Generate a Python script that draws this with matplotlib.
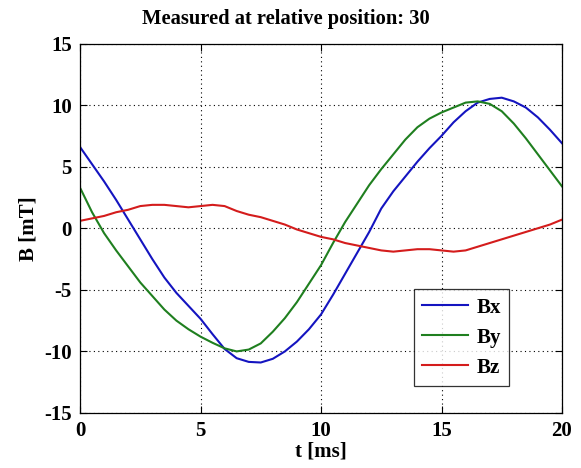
import matplotlib
matplotlib.use("Agg")
import matplotlib.pyplot as plt

t = [i * 0.5 for i in range(41)]
bx = [6.6, 5.2, 3.8, 2.3, 0.7, -0.9, -2.5, -4.0, -5.25, -6.3,
      -7.35, -8.6, -9.8, -10.55, -10.85, -10.9, -10.6, -10.0, -9.2, -8.2,
      -7.0, -5.4, -3.7, -2.0, -0.3, 1.6, 3.0, 4.2, 5.4, 6.5,
      7.5, 8.6, 9.5, 10.2, 10.5, 10.6, 10.3, 9.8, 9.0, 8.0, 6.9]
by = [3.3, 1.3, -0.4, -1.8, -3.1, -4.4, -5.5, -6.6, -7.5, -8.2,
      -8.8, -9.3, -9.75, -10.0, -9.85, -9.35, -8.4, -7.3, -6.0, -4.5,
      -3.0, -1.2, 0.5, 2.0, 3.5, 4.8, 6.0, 7.2, 8.2, 8.9,
      9.4, 9.8, 10.2, 10.3, 10.1, 9.5, 8.5, 7.3, 6.0, 4.7, 3.4]
bz = [0.6, 0.8, 1.0, 1.3, 1.5, 1.8, 1.9, 1.9, 1.8, 1.7,
      1.8, 1.9, 1.8, 1.4, 1.1, 0.9, 0.6, 0.3, -0.1, -0.4,
      -0.7, -0.9, -1.2, -1.4, -1.6, -1.8, -1.9, -1.8, -1.7, -1.7,
      -1.8, -1.9, -1.8, -1.5, -1.2, -0.9, -0.6, -0.3, 0.0, 0.3, 0.7]
xticks = [0, 5, 10, 15, 20]
yticks = [-15, -10, -5, 0, 5, 10, 15]
title = "Measured at relative position: 30"

plt.rcParams['font.family'] = ['Liberation Serif', 'DejaVu Serif']
plt.rcParams['font.weight'] = 'bold'

fig = plt.figure(figsize=(5.81, 4.68), dpi=100)
ax = fig.add_axes([80/581, 1-413/468, 482/581, 369.5/468])

ax.plot(t, bx, color='#1414c0', lw=1.5, label='Bx')
ax.plot(t, by, color='#1f7f1f', lw=1.5, label='By')
ax.plot(t, bz, color='#d41c1c', lw=1.5, label='Bz')

ax.set_xlim(0, 20)
ax.set_ylim(-15, 15)
ax.set_xticks(xticks)
ax.set_yticks(yticks)
ax.set_xticklabels([str(v) for v in xticks], fontsize=15, fontweight='bold')
ax.set_yticklabels([str(v) for v in yticks], fontsize=15, fontweight='bold')
ax.tick_params(direction='in', top=True, right=True, length=5, width=0.8, pad=6)
ax.grid(True, color='black', linestyle=(0, (1, 3)), linewidth=0.8)
for s in ax.spines.values():
    s.set_linewidth(0.9)

ax.set_xlabel('t [ms]', fontsize=15, fontweight='bold', labelpad=0)
ax.set_ylabel('B [mT]', fontsize=15, fontweight='bold', labelpad=4)
fig.text(286/581, 1-19/468, title, ha='center', va='center', fontsize=14.8, fontweight='bold')

leg = ax.legend(loc='lower right', bbox_to_anchor=((509-80)/482, (413-386)/369.5),
                fontsize=15, frameon=True, fancybox=False, edgecolor='black',
                handlelength=2.2, handletextpad=0.4, borderpad=0.4, labelspacing=0.48,
                borderaxespad=0)
leg.get_frame().set_linewidth(0.9)
for txt in leg.get_texts():
    txt.set_fontweight('bold')

fig.savefig('out.png', dpi=100)
